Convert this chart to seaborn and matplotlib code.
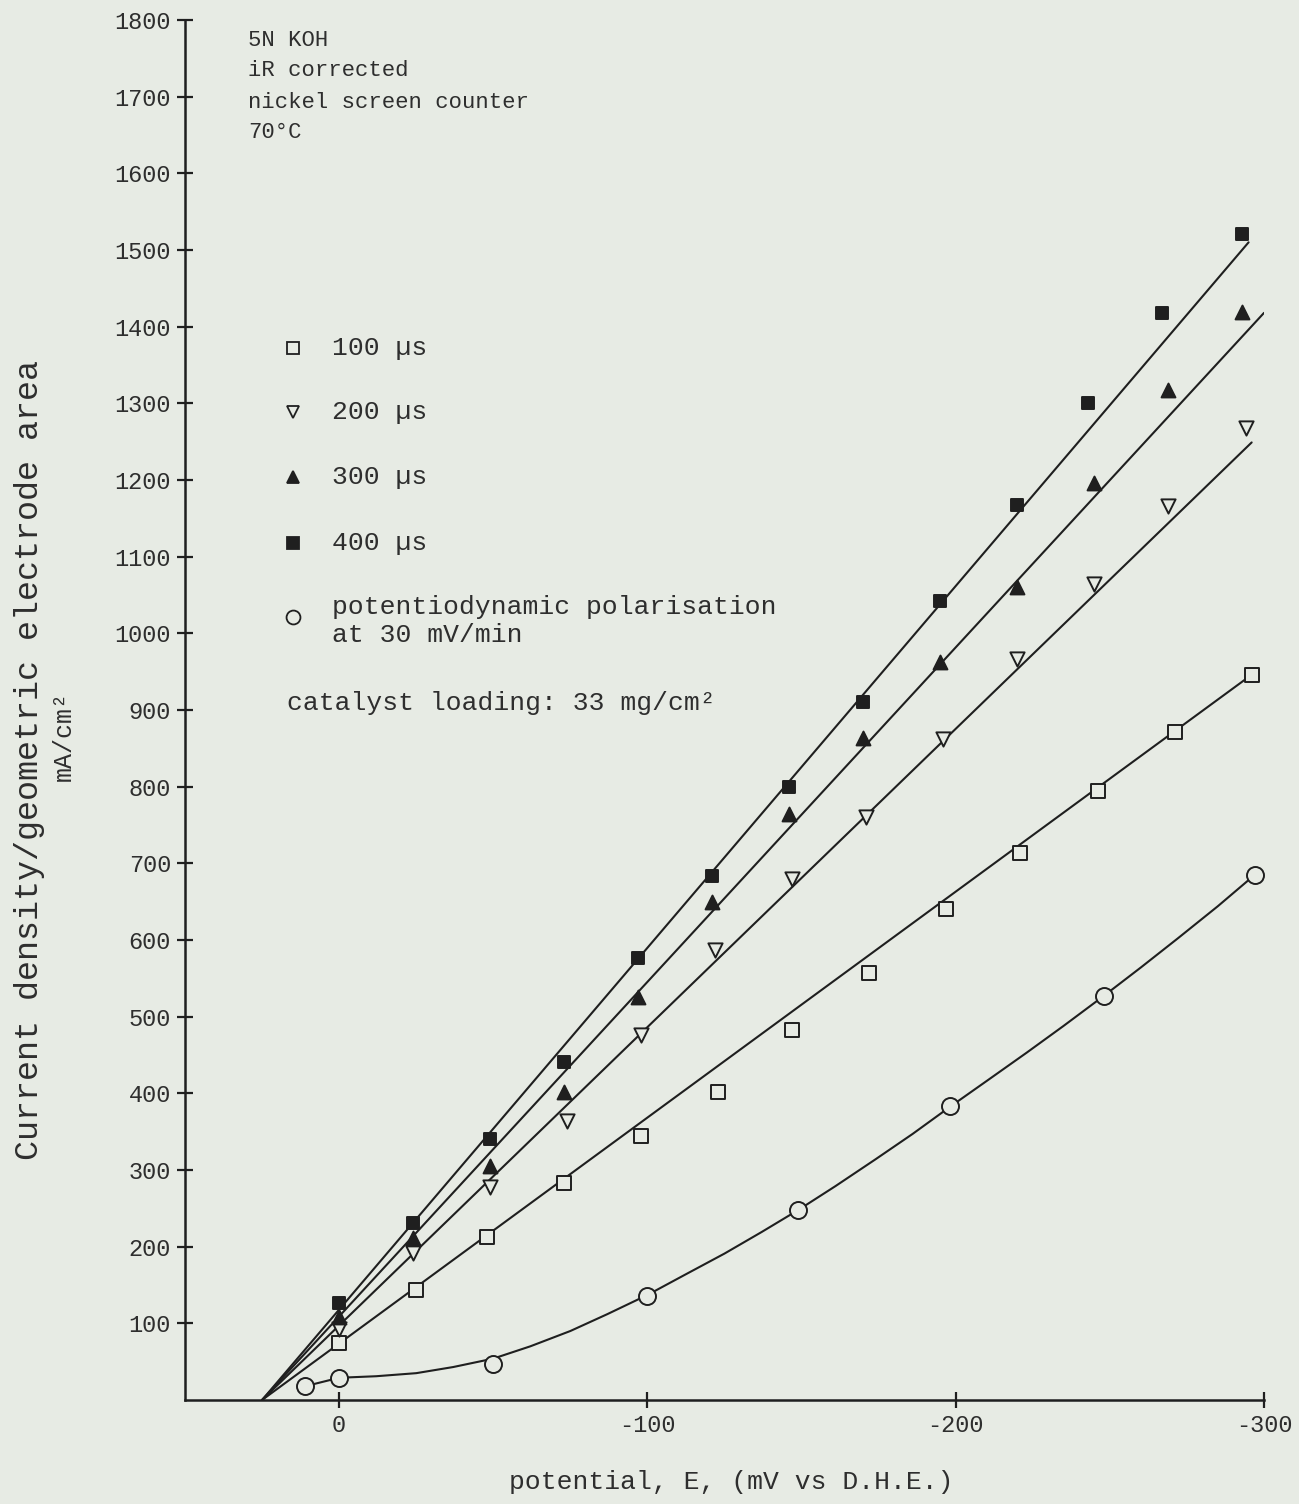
import numpy as np
import pandas as pd
import seaborn as sns
import matplotlib
matplotlib.use("Agg")
import matplotlib.pyplot as plt

# ---- measured current densities (mA/cm^2) against potential (mV vs D.H.E.) ----
E_100 = [0, -25, -48, -73, -98, -123, -147, -172, -197, -221, -246, -271, -296]
j_100 = [74, 144, 213, 283, 345, 402, 483, 557, 640, 713, 794, 871, 946]

E_200 = [0, -24, -49, -74, -98, -122, -147, -171, -196, -220, -245, -269, -294]
j_200 = [93, 192, 278, 364, 476, 587, 679, 760, 862, 966, 1065, 1166, 1268]

E_300 = [0, -24, -49, -73, -97, -121, -146, -170, -195, -220, -245, -269, -293]
j_300 = [108, 211, 305, 402, 526, 650, 764, 863, 962, 1060, 1196, 1317, 1419]

E_400 = [0, -24, -49, -73, -97, -121, -146, -170, -195, -220, -243, -267, -293]
j_400 = [127, 231, 341, 441, 576, 684, 800, 911, 1042, 1167, 1300, 1418, 1521]

E_pd = [11, 0, -50, -100, -149, -198, -248, -297]
j_pd = [18, 29, 47, 136, 248, 383, 527, 685]

# ---- hand-drawn fitted curves ----
fit_400_E, fit_400_j = [25, -295], [0, 1510]
fit_300_E, fit_300_j = [25, -300], [0, 1418]
fit_200_E, fit_200_j = [25, -296], [0, 1249]
fit_100_E, fit_100_j = [25, -296], [0, 946]
fit_pd_E = [11, 0, -12, -25, -37, -50, -62, -75, -87, -100, -112, -125, -137,
            -149, -161, -174, -186, -198, -210, -223, -235, -248, -260, -272, -285, -297]
fit_pd_j = [18, 29, 31, 35, 43, 54, 70, 90, 112, 137, 163, 191, 219,
            248, 279, 314, 347, 382, 416, 453, 488, 527, 564, 602, 644, 685]

x_ticks = [0, -100, -200, -300]
x_tick_labels = ["0", "-100", "-200", "-300"]
y_ticks = list(range(100, 1900, 100))

legend_labels = ["100 µs", "200 µs", "300 µs", "400 µs",
                 "potentiodynamic polarisation\nat 30 mV/min"]
notes = ["5N KOH", "iR corrected", "nickel screen counter", "70°C"]
loading_note = "catalyst loading: 33 mg/cm²"

PAPER = "#e7ebe4"
INK = "#1f1f1f"
TEXT = "#2e2e2e"
W, H = 1299, 1504

sns.set_theme(style="ticks")
plt.rcParams["font.family"] = ["Liberation Mono", "DejaVu Sans"]
plt.rcParams["axes.unicode_minus"] = False

fig = plt.figure(figsize=(W / 100, H / 100), dpi=100, facecolor=PAPER)
ax = fig.add_axes([185 / W, 1 - 1400 / H, (1264 - 185) / W, (1400 - 20) / H])
ax.set_facecolor(PAPER)

line_kw = dict(color=INK, linewidth=1.5, sort=False, estimator=None, ax=ax, zorder=2)
for fe, fj in [(fit_400_E, fit_400_j), (fit_300_E, fit_300_j), (fit_200_E, fit_200_j),
               (fit_100_E, fit_100_j), (fit_pd_E, fit_pd_j)]:
    sns.lineplot(x=fe, y=fj, **line_kw)

series = [
    (E_100, j_100, "s", PAPER, 95),
    (E_200, j_200, "v", PAPER, 105),
    (E_300, j_300, "^", INK, 100),
    (E_400, j_400, "s", INK, 85),
    (E_pd, j_pd, "o", PAPER, 150),
]
for e, j, m, fc, s in series:
    df = pd.DataFrame({"E": e, "j": j})
    sns.scatterplot(data=df, x="E", y="j", marker=m, s=s, facecolor=fc,
                    edgecolor=INK, linewidth=1.4, ax=ax, zorder=3, legend=False)

ax.set_xlim(50, -300)
ax.set_ylim(0, 1800)
ax.set_xticks(x_ticks)
ax.set_xticklabels(x_tick_labels)
ax.set_yticks(y_ticks)
ax.set_yticklabels([str(v) for v in y_ticks])
ax.set_xlabel("")
ax.set_ylabel("")
for side in ["top", "right"]:
    ax.spines[side].set_visible(False)
for side in ["left", "bottom"]:
    ax.spines[side].set_linewidth(1.8)
    ax.spines[side].set_color(INK)
ax.tick_params(axis="both", direction="inout", length=12, width=1.6, color=INK,
               labelsize=17, labelcolor=TEXT, pad=4)

def fx(px):
    return px / W

def fy(py):
    return 1 - py / H

# axis titles
fig.text(fx(731), fy(1482), "potential, E, (mV vs D.H.E.)", ha="center", va="center",
         fontsize=19, color=TEXT)
fig.text(fx(30), fy(760), "Current density/geometric electrode area", rotation=90,
         ha="center", va="center", fontsize=24, color=TEXT)
fig.text(fx(64), fy(736), "mA/cm²", rotation=90, ha="center", va="center",
         fontsize=18, color=TEXT)

# condition notes
for i, t in enumerate(notes):
    fig.text(fx(248), fy(40 + 31 * i), t, ha="left", va="center", fontsize=16, color=TEXT)

# legend drawn as markers plus text
leg_y = [348, 412, 477, 543, 617]
leg_m = [("s", PAPER, 8), ("v", PAPER, 9), ("^", INK, 9), ("s", INK, 8), ("o", PAPER, 10)]
for (m, fc, ms), y, lab in zip(leg_m, leg_y, legend_labels):
    fig.add_artist(plt.Line2D([fx(293)], [fy(y)], marker=m, markersize=ms,
                              markerfacecolor=fc, markeredgecolor=INK,
                              markeredgewidth=1.3, linestyle="none",
                              transform=fig.transFigure))
    ty = y if "\n" not in lab else 621
    fig.text(fx(332), fy(ty), lab, ha="left", va="center", fontsize=19,
             color=TEXT, linespacing=1.2)
fig.text(fx(287), fy(703), loading_note, ha="left", va="center", fontsize=19, color=TEXT)

fig.savefig("out.png", dpi=100, facecolor=PAPER)
